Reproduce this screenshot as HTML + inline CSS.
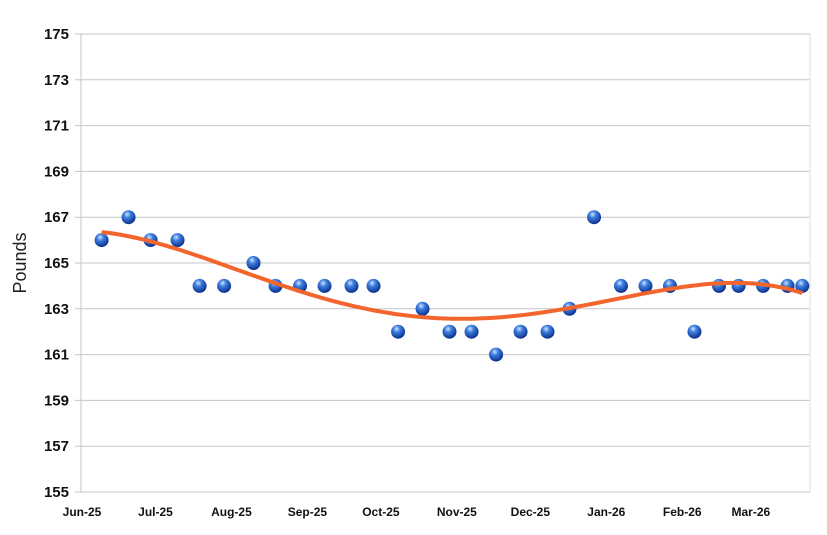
<!DOCTYPE html>
<html><head><meta charset="utf-8"><style>
body{margin:0;background:#fff;}
svg{display:block;font-family:"Liberation Sans",Arial,sans-serif;}
</style></head><body>
<svg id="chart" width="827" height="535"></svg>
<script>
const dayOffsets=[8,19,28,39,48,58,70,79,89,99,110,119,129,139,150,159,169,179,190,199,209,220,230,240,250,260,268,278,288,294];
const weights=[166,167,166,166,164,164,165,164,164,164,164,164,162,163,162,162,161,162,162,163,167,164,164,164,162,164,164,164,164,164];
const yTicks=[155,157,159,161,163,165,167,169,171,173,175];
const monthLabels=["Jun-25","Jul-25","Aug-25","Sep-25","Oct-25","Nov-25","Dec-25","Jan-26","Feb-26","Mar-26"];
const monthStarts=[0,30,61,92,122,153,183,214,245,273];

const NS="http://www.w3.org/2000/svg";
const svg=document.getElementById('chart');
const L=81,R=810,T=34,B=492;
const xs=d=>82+d*2.45;
const ys=v=>B-(v-155)*(B-T)/20;
function mk(tag,attrs,parent){const e=document.createElementNS(NS,tag);for(const k in attrs)e.setAttribute(k,attrs[k]);(parent||svg).appendChild(e);return e;}

const defs=mk('defs',{});
const g=mk('radialGradient',{id:'ball',cx:'0.4',cy:'0.3',r:'0.7'},defs);
mk('stop',{offset:'0','stop-color':'#cfe3ff'},g);
mk('stop',{offset:'0.35','stop-color':'#3d7fe0'},g);
mk('stop',{offset:'1','stop-color':'#0a2f8a'},g);

yTicks.forEach(v=>{
  const y=ys(v);
  const ln=mk('line',{x1:75,x2:R,y1:y,y2:y,stroke:'#c6c6c6','stroke-width':1});
  
  
  const t=mk('text',{x:69,y:y+5,'text-anchor':'end','font-size':15,'font-weight':'bold',fill:'#111'});
  t.textContent=v;
  
  
});
const ax=mk('line',{x1:L,x2:L,y1:T,y2:B,stroke:'#c6c6c6','stroke-width':1});


const rx=mk('line',{x1:R,x2:R,y1:T,y2:B,stroke:'#dcdcdc','stroke-width':1});



monthLabels.forEach((m,i)=>{
  const t=mk('text',{x:xs(monthStarts[i]),y:516,'text-anchor':'middle','font-size':12,'font-weight':'bold',fill:'#111'});
  t.textContent=m;
  
  
});
const yl=mk('text',{x:26,y:263,'text-anchor':'middle','font-size':18,fill:'#222',transform:'rotate(-90 26 263)'});
yl.textContent='Pounds';



function polyfit(xv,yv,deg){
  const n=deg+1,A=[],b=[];
  for(let i=0;i<n;i++){A.push(new Array(n).fill(0));b.push(0);}
  xv.forEach((x,k)=>{for(let i=0;i<n;i++){b[i]+=yv[k]*Math.pow(x,i);for(let j=0;j<n;j++)A[i][j]+=Math.pow(x,i+j);}});
  for(let i=0;i<n;i++){let p=i;for(let r=i+1;r<n;r++)if(Math.abs(A[r][i])>Math.abs(A[p][i]))p=r;[A[i],A[p]]=[A[p],A[i]];[b[i],b[p]]=[b[p],b[i]];
    for(let r=i+1;r<n;r++){const f=A[r][i]/A[i][i];for(let c=i;c<n;c++)A[r][c]-=f*A[i][c];b[r]-=f*b[i];}}
  const c=new Array(n).fill(0);
  for(let i=n-1;i>=0;i--){let s=b[i];for(let j=i+1;j<n;j++)s-=A[i][j]*c[j];c[i]=s/A[i][i];}
  return c;
}
const sc=300;
const coef=polyfit(dayOffsets.map(d=>d/sc),weights,4);
let dstr='';
const d0=dayOffsets[0],d1=dayOffsets[dayOffsets.length-1];
for(let k=0;k<=100;k++){const d=d0+(d1-d0)*k/100;const u=d/sc;let v=0;coef.forEach((c,i)=>v+=c*Math.pow(u,i));dstr+=(k?'L':'M')+xs(d).toFixed(1)+' '+ys(v).toFixed(1);}

dayOffsets.forEach((d,i)=>{
  const c=mk('circle',{cx:xs(d),cy:ys(weights[i]),r:7,fill:'url(#ball)'});
  
  
});
const tr=mk('path',{d:dstr,fill:'none',stroke:'#f2652c','stroke-width':4,'stroke-linecap':'butt'});


</script>
</body></html>
